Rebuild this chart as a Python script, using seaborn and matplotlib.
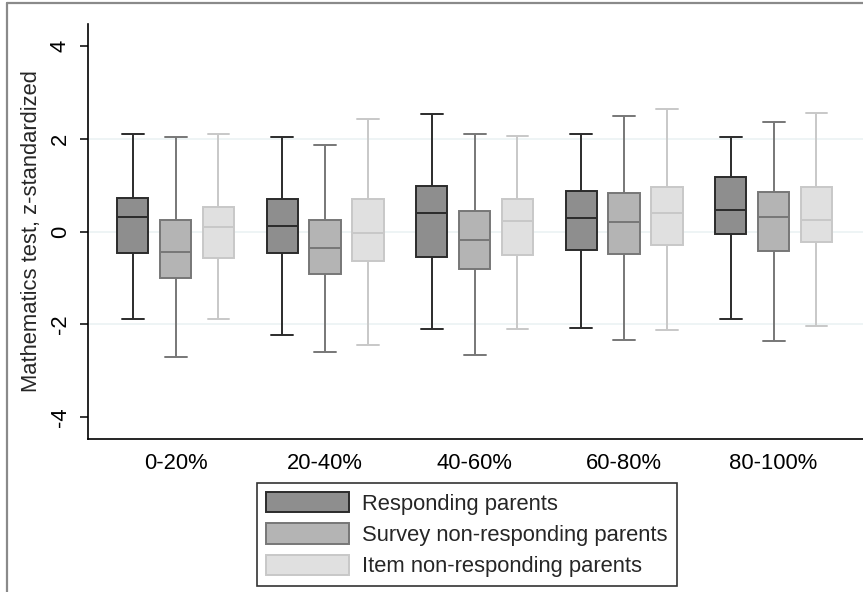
import numpy as np
import pandas as pd
import matplotlib
matplotlib.use("Agg")
import matplotlib.pyplot as plt
import seaborn as sns
from matplotlib.patches import Patch
from matplotlib.lines import Line2D

groups = ["0-20%", "20-40%", "40-60%", "60-80%", "80-100%"]
parents = ["Responding parents", "Survey non-responding parents", "Item non-responding parents"]

# five-number summaries: lower whisker, q1, median, q3, upper whisker
responding = [
    [-1.88, -0.47, 0.31, 0.73, 2.11],
    [-2.23, -0.47, 0.11, 0.70, 2.05],
    [-2.11, -0.55, 0.41, 0.99, 2.54],
    [-2.09, -0.41, 0.29, 0.88, 2.11],
    [-1.88, -0.06, 0.47, 1.17, 2.03],
]
survey_nonresp = [
    [-2.70, -1.01, -0.45, 0.24, 2.03],
    [-2.60, -0.91, -0.35, 0.25, 1.86],
    [-2.66, -0.80, -0.18, 0.44, 2.11],
    [-2.34, -0.48, 0.21, 0.84, 2.50],
    [-2.37, -0.43, 0.31, 0.86, 2.37],
]
item_nonresp = [
    [-1.88, -0.58, 0.09, 0.52, 2.11],
    [-2.45, -0.63, -0.04, 0.71, 2.42],
    [-2.11, -0.51, 0.22, 0.71, 2.07],
    [-2.12, -0.30, 0.39, 0.97, 2.65],
    [-2.03, -0.22, 0.25, 0.97, 2.55],
]

fills = ["#8e8e8e", "#b4b4b4", "#e0e0e0"]
edges = ["#2b2b2b", "#777777", "#c8c8c8"]

rows = []
for name, series in zip(parents, [responding, survey_nonresp, item_nonresp]):
    for g, summary in zip(groups, series):
        for v in summary:
            rows.append({"group": g, "parent": name, "score": v})
df = pd.DataFrame(rows)

sns.set_style("ticks")
plt.rcParams["font.family"] = ["Liberation Sans", "DejaVu Sans"]
fs = 15.8

fig = plt.figure(figsize=(8.63, 5.92), dpi=100)
ax = fig.add_axes([0.102, 0.2584, 0.898, 0.7011])

# with five points per box and whis=(0,100) the box shows exactly the summary above
sns.boxplot(data=df, x="group", y="score", hue="parent", hue_order=parents,
            order=groups, palette=fills, whis=(0, 100), width=0.86, gap=0.27,
            showfliers=False, linewidth=1.4, legend=False, ax=ax)

for cont, ec in zip(ax.containers, edges):
    for b in cont.boxes:
        b.set_edgecolor(ec)
    for ln in list(cont.medians) + list(cont.whiskers):
        ln.set_color(ec)
    for cap in cont.caps:
        cap.set_color(ec)
        xd = np.asarray(cap.get_xdata(), dtype=float)
        c = xd.mean()
        h = (xd[1] - xd[0]) / 2 * 1.4
        cap.set_xdata([c - h, c + h])

ax.set_xlim(-0.586, 4.598)
ax.set_ylim(-4.48, 4.48)
ax.set_yticks([-4, -2, 0, 2, 4])
ax.set_yticklabels(["-4", "-2", "0", "2", "4"])
for lab in ax.get_yticklabels():
    lab.set_rotation(90)
    lab.set_va("center")
    lab.set_ha("right")

ax.grid(axis="y", color="#eaf1f3", linewidth=1.1)
ax.set_axisbelow(True)
for gl, t in zip(ax.yaxis.get_gridlines(), [-4, -2, 0, 2, 4]):
    if abs(t) == 4:
        gl.set_visible(False)

ax.tick_params(axis="y", length=5.8, width=1.1, pad=6.5, labelsize=fs, colors="black")
ax.tick_params(axis="x", length=0, pad=10, labelsize=fs, colors="black")
ax.set_xlabel("")
ax.set_ylabel("Mathematics test, z-standardized", fontsize=fs, labelpad=6)

sns.despine(ax=ax, top=True, right=True)
for s in ["left", "bottom"]:
    ax.spines[s].set_linewidth(1.2)
    ax.spines[s].set_color("black")

handles = [Patch(facecolor=f, edgecolor=e, linewidth=1.4) for f, e in zip(fills, edges)]
leg = fig.legend(handles, parents, loc="upper center", bbox_to_anchor=(0.541, 0.184),
                 fontsize=fs, frameon=True, fancybox=False, ncol=1,
                 handlelength=3.8, handleheight=1.05, handletextpad=0.6,
                 labelspacing=0.39, borderpad=0.41, borderaxespad=0)
leg.get_frame().set_edgecolor("black")
leg.get_frame().set_linewidth(1.2)

# outer graph-region border (cropped on the right and bottom)
fig.add_artist(Line2D([0.0085, 0.0085], [0, 0.995], transform=fig.transFigure,
                      color="#8a8a8a", linewidth=1.6))
fig.add_artist(Line2D([0.0085, 1.0], [0.995, 0.995], transform=fig.transFigure,
                      color="#8a8a8a", linewidth=1.6))

fig.savefig("out.png", dpi=100)
